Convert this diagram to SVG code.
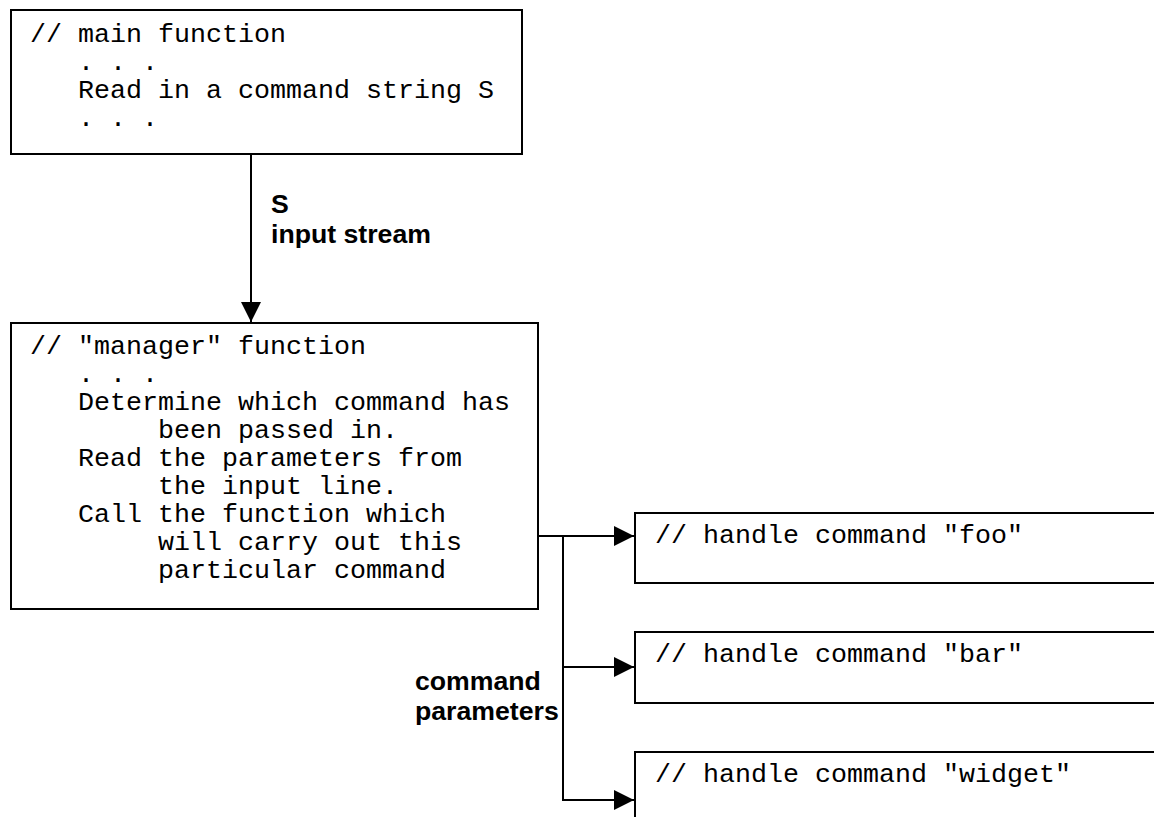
<svg xmlns="http://www.w3.org/2000/svg" width="1154" height="817" viewBox="0 0 1154 817" xml:space="preserve">
<style>
.box{fill:#fff;stroke:#000;stroke-width:2}
.code{font-family:"Liberation Mono","Courier New",monospace;font-size:26.67px;fill:#000;white-space:pre}
.lbl{font-family:"Liberation Sans",Arial,sans-serif;font-size:26.67px;font-weight:bold;fill:#000}
.ln{fill:none;stroke:#000;stroke-width:2}
</style>
<defs>
<marker id="ah" viewBox="0 0 20 20" refX="20" refY="10" markerWidth="20" markerHeight="20" markerUnits="userSpaceOnUse" orient="auto">
<path d="M0,0 L20,10 L0,20 Z" fill="#000"/>
</marker>
</defs>
<rect width="1154" height="817" fill="#fff"/>
<g id="main">
<rect class="box" x="11" y="10" width="511" height="144"/>
<text class="code" x="30" y="42">// main function</text>
<text class="code" x="30" y="70">   . . .</text>
<text class="code" x="30" y="98">   Read in a command string S</text>
<text class="code" x="30" y="126">   . . .</text>
</g>
<g id="manager">
<rect class="box" x="11" y="323" width="527" height="286"/>
<text class="code" x="30" y="354">// "manager" function</text>
<text class="code" x="30" y="382">   . . .</text>
<text class="code" x="30" y="410">   Determine which command has</text>
<text class="code" x="30" y="438">        been passed in.</text>
<text class="code" x="30" y="466">   Read the parameters from</text>
<text class="code" x="30" y="494">        the input line.</text>
<text class="code" x="30" y="522">   Call the function which</text>
<text class="code" x="30" y="550">        will carry out this</text>
<text class="code" x="30" y="578">        particular command</text>
</g>
<g id="foo">
<rect class="box" x="635" y="513" width="530" height="70"/>
<text class="code" x="655" y="543">// handle command "foo"</text>
</g>
<g id="bar">
<rect class="box" x="635" y="632" width="530" height="71"/>
<text class="code" x="655" y="662">// handle command "bar"</text>
</g>
<g id="widget">
<rect class="box" x="635" y="752" width="530" height="80"/>
<text class="code" x="655" y="782">// handle command "widget"</text>
</g>
<g id="connectors">
<line class="ln" x1="251" y1="154" x2="251" y2="322" marker-end="url(#ah)"/>
<line class="ln" x1="538" y1="536" x2="634" y2="536" marker-end="url(#ah)"/>
<polyline class="ln" points="563,536 563,800 634,800" marker-end="url(#ah)"/>
<line class="ln" x1="563" y1="667" x2="634" y2="667" marker-end="url(#ah)"/>
</g>
<g id="labels">
<text class="lbl" x="271" y="213">S</text>
<text class="lbl" x="271" y="243">input stream</text>
<text class="lbl" x="415" y="690">command</text>
<text class="lbl" x="415" y="720">parameters</text>
</g>
</svg>
